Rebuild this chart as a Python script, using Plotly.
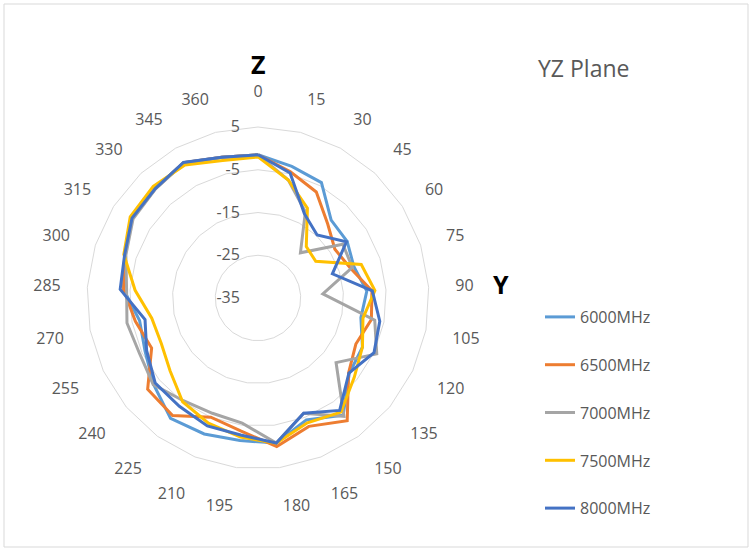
import plotly.graph_objects as go

# Angle categories (degrees) around the YZ plane
angles = ["0", "15", "30", "45", "60", "75", "90", "105", "120", "135", "150", "165",
          "180", "195", "210", "225", "240", "255", "270", "285", "300", "315", "330",
          "345", "360"]

# Gain per angle (dB) for each frequency
g6000 = [-1.5, -3.2, -4.2, -10, -10.3, -11.4, -9.5, -10.5, -8, -7.3, -1.1, -4.3,
         -0.8, -1.4, -0.8, -0.2, -3.3, -5.8, -6.8, -3.5, -2.2, -0.2, 0.1, 1.1, -1]
g6500 = [-1.5, -4.5, -6.7, -11.2, -13.7, -12.3, -8.3, -8, -9.7, -7.5, 0.5, -2.7,
         0, -3.6, -5, -1, -1.5, -7.5, -5.8, -3.5, -2.2, -0.2, 0.1, 1.1, -1]
g7000 = [-1.5, -6.5, -12, -20.5, -11.5, -11.8, -19.8, -7.2, -4.3, -11.3, -0.8, -6,
         -0.8, -5.5, -6, -5.3, -3.2, -4.4, -3.8, -4.2, -2.5, -0.4, 0, 1, -1]
g7500 = [-2, -6.5, -11, -18.5, -19, -9.6, -7.6, -10, -8, -5.8, -2, -3.6,
         -0.8, -2.2, -3.5, -5, -8.3, -10, -9.7, -6.2, -2, 0.4, 0.8, 0.5, -1.8]
g8000 = [-1.5, -4.8, -12.5, -14.8, -10.5, -16.7, -8.2, -6, -5, -7.4, -2.5, -6,
         -0.8, -2.7, -2.8, -3.7, -3.8, -6.2, -8.1, -2.7, -2.2, -0.1, 0.1, 1.2, -1]

series = [
    ("6000MHz", g6000, "#5B9BD5"),
    ("6500MHz", g6500, "#ED7D31"),
    ("7000MHz", g7000, "#A5A5A5"),
    ("7500MHz", g7500, "#FFC000"),
    ("8000MHz", g8000, "#4472C4"),
]

radial_ticks = [-35, -25, -15, -5, 5]
radial_labels = [str(v) for v in radial_ticks]

FONT = "Open Sans"
TXT = "#595959"
GRID = "#D9D9D9"

fig = go.Figure()
for name, vals, color in series:
    # close the loop back to the first angle
    fig.add_trace(go.Scatterpolar(
        r=vals + vals[:1],
        theta=angles + angles[:1],
        mode="lines",
        name=name,
        legendgroup=name,
        line=dict(color=color, width=3),
    ))


def label(text, x, y, size, color, bold=False):
    return dict(text=f"<b>{text}</b>" if bold else text,
                x=x / 751, y=(550 - y) / 550, xref="paper", yref="paper",
                xanchor="center", yanchor="middle", showarrow=False,
                font=dict(size=size, color=color, family=FONT))


fig.update_layout(
    width=751, height=550,
    margin=dict(l=0, r=0, t=0, b=0),
    paper_bgcolor="white",
    plot_bgcolor="white",
    font=dict(family=FONT, color=TXT),
    polar=dict(
        domain=dict(x=[87 / 751, 429 / 751], y=[(550 - 469) / 550, (550 - 127) / 550]),
        bgcolor="white",
        gridshape="linear",
        angularaxis=dict(
            type="category",
            rotation=90,
            direction="clockwise",
            showgrid=False,
            showline=True,
            linecolor=GRID,
            linewidth=1,
            ticks="outside",
            ticklen=23,
            tickcolor="rgba(0,0,0,0)",
            tickfont=dict(size=16, color=TXT, family=FONT),
        ),
        radialaxis=dict(
            range=[-35, 5],
            tickmode="array",
            tickvals=radial_ticks,
            ticktext=radial_labels,
            angle=90,
            tickangle=90,
            side="counterclockwise",
            showline=False,
            showgrid=True,
            gridcolor=GRID,
            gridwidth=1,
            ticks="outside",
            ticklen=12,
            tickcolor="rgba(0,0,0,0)",
            tickfont=dict(size=16, color=TXT, family=FONT),
        ),
    ),
    legend=dict(
        x=540 / 751, y=(550 - 300) / 550,
        xanchor="left", yanchor="top",
        font=dict(size=16, color=TXT, family=FONT),
        tracegroupgap=24,
        bgcolor="rgba(0,0,0,0)",
    ),
    annotations=[
        label("Z", 258, 64, 25, "black", bold=True),
        label("Y", 501, 284, 25, "black", bold=True),
        label("YZ Plane", 583, 68, 23, TXT),
    ],
    shapes=[
        dict(type="rect", xref="paper", yref="paper", x0=4 / 751, x1=748 / 751,
             y0=(550 - 547) / 550, y1=(550 - 4) / 550,
             line=dict(color=GRID, width=1), fillcolor="rgba(0,0,0,0)"),
    ],
)

fig.write_html("out.html")
